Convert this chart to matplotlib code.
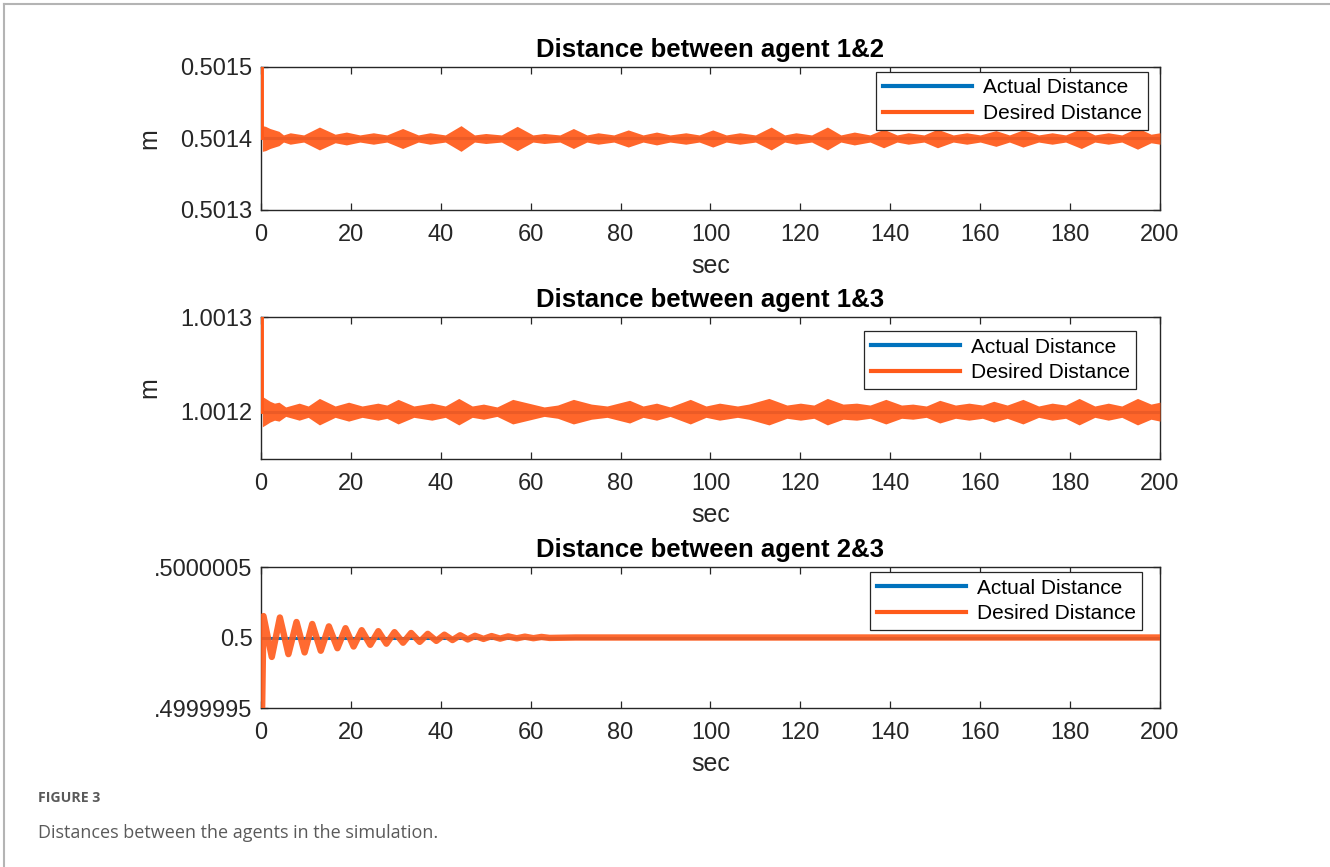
import numpy as np
import matplotlib.pyplot as plt

plt.rcParams['font.family'] = ['Liberation Sans', 'DejaVu Sans']

BLUE = '#0072BD'
ORANGE = '#FF5A1A'
INK = '#262626'

# values
# panel 1 / 2: band half-width of the desired distance, in 1e-6 m
base12 = 0.5014
spike12_t = [0.3, 0.3]
spike12_y = [0.50140, 0.50152]
env12_t = [0.3, 1, 2, 3, 4, 5, 6.5, 9.5, 13, 16.5, 19, 22, 25, 28, 31.5, 35, 37.6, 41,
           44.5, 47.5, 50, 53.5, 57, 60.5, 63, 66.5, 69.5, 72.5, 75, 78.5, 81.7, 85, 88,
           91, 94.5, 97.5, 100.5, 103.5, 106.5, 110, 113.5, 116.5, 119, 122.5, 126, 129,
           132, 135.5, 138.5, 141.5, 144, 147.5, 150.5, 154, 157, 160, 163.5, 166.5,
           169.5, 173, 176, 179, 182.5, 185.5, 188.5, 191.5, 195, 198, 200]
env12_amp = [18, 17, 14, 12, 10, 5, 8, 5, 16, 6, 9, 5, 8, 5, 14, 5, 8, 5,
             18, 5, 7, 5, 17, 5, 7, 5, 14, 5, 8, 5, 12, 5, 9,
             5, 8, 5, 12, 5, 8, 5, 16, 5, 8, 5, 16, 5,
             9, 5, 13, 5, 8, 5, 13, 5, 8, 5, 11, 5,
             12, 5, 8, 5, 14, 5, 8, 5, 15, 6, 8]

base13 = 1.0012
spike13_t = [0.3, 0.3]
spike13_y = [1.00120, 1.00132]
env13_t = [0.3, 1, 2, 3, 4, 5.5, 8.5, 10.5, 13, 16.5, 19.5, 22.5, 26, 28, 30.5, 34, 38,
           41, 44, 47, 49.5, 52.5, 56, 59.5, 63, 66, 69.5, 73.5, 77, 82, 85, 88, 91,
           95.5, 99, 102, 106, 108.5, 113, 117, 120, 123, 126, 129.5, 132.5, 135.5, 139,
           142.5, 145, 148, 151, 154.5, 157.5, 160.5, 163, 166, 169.5, 173, 176, 179,
           182, 185.5, 188.5, 191.5, 195, 198, 200]
env13_amp = [16, 14, 11, 9, 10, 5, 9, 6, 14, 6, 10, 6, 9, 7, 13, 6, 9,
             6, 14, 6, 8, 5, 13, 9, 5, 7, 13, 8, 6, 12, 6, 9, 5,
             13, 6, 9, 6, 8, 14, 7, 9, 7, 14, 8, 9, 7, 13,
             7, 8, 6, 12, 7, 9, 7, 11, 7, 13, 6, 9, 7,
             14, 6, 9, 6, 14, 8, 10]

# panel 3: peaks and troughs of the desired distance, in 1e-9 m
base23 = 0.5
osc23_t = [0.15, 0.55, 2.4, 4.2, 6.1, 7.9, 9.7, 11.4, 13.3, 15.1, 17.0, 18.8, 20.6,
           22.4, 24.3, 26.1, 27.9, 29.7, 31.6, 33.4, 35.3, 37.1, 39.0, 40.8, 42.6,
           44.3, 46.0, 47.6, 49.5, 51.3, 53.2, 55.0, 56.9, 58.7, 60.6, 62.4, 64.2,
           70, 200]
osc23_y = [-720, 152, -138, 142, -118, 110, -106, 96, -94, 79, -76, 66, -64,
           52, -52, 45, -44, 38, -37, 32, -31, 26, -24, 20, -18,
           16, -14, 12, -10, 10, -8, 8, -6, 6, -5, 4, -3,
           0, 0]

x_ticks = [0, 20, 40, 60, 80, 100, 120, 140, 160, 180, 200]
titles = ['Distance between agent 1&2', 'Distance between agent 1&3',
          'Distance between agent 2&3']


def style(ax, title, yticks, ylabels, ylim, ylabel=None):
    ax.set_xlim(0, 200)
    ax.set_ylim(*ylim)
    ax.set_xticks(x_ticks)
    ax.set_yticks(yticks)
    ax.set_yticklabels(ylabels)
    ax.tick_params(direction='in', length=5, width=0.9, colors=INK, labelsize=17,
                   top=True, right=True)
    ax.tick_params(axis='x', pad=10)
    ax.tick_params(axis='y', pad=6)
    for s in ax.spines.values():
        s.set_color(INK)
        s.set_linewidth(1.0)
    ax.set_title(title, fontsize=18.5, fontweight='bold', pad=7)
    ax.set_xlabel('sec', fontsize=18, color=INK, labelpad=6)
    if ylabel:
        ax.set_ylabel(ylabel, fontsize=18, color=INK, labelpad=14)


def add_legend(ax, anchor):
    leg = ax.legend(loc='upper right', bbox_to_anchor=anchor, fontsize=15,
                    handlelength=4.3, handletextpad=0.5, labelspacing=0.33,
                    borderaxespad=0, borderpad=0.31, fancybox=False, framealpha=1)
    leg.get_frame().set_edgecolor(INK)
    leg.get_frame().set_linewidth(0.9)
    for ln in leg.get_lines():
        ln.set_linewidth(3.0)
        ln.set_alpha(1)


fig = plt.figure(figsize=(13.3, 8.67), dpi=100)
axes = [fig.add_axes([0.19624, 0.75779, 0.67594, 0.16494]),
        fig.add_axes([0.19624, 0.47059, 0.67594, 0.16378]),
        fig.add_axes([0.19624, 0.18339, 0.67594, 0.16263])]

# panels 1 and 2
for ax, base, st, sy, et, ea in [(axes[0], base12, spike12_t, spike12_y, env12_t, env12_amp),
                                 (axes[1], base13, spike13_t, spike13_y, env13_t, env13_amp)]:
    ax.plot([0, 200], [base, base], color=BLUE, lw=2.2, label='Actual Distance', zorder=2)
    amp = np.array(ea) * 1e-6
    ax.fill_between(et, base - amp, base + amp, color=ORANGE, lw=0, alpha=0.93, zorder=3)
    ax.plot(st, sy, color=ORANGE, lw=2.8, zorder=3, label='Desired Distance')

ax = axes[2]
ax.plot([0, 200], [base23, base23], color=BLUE, lw=2.2, label='Actual Distance', zorder=2)
ax.plot(osc23_t, base23 + np.array(osc23_y) * 1e-9, color=ORANGE, lw=4.6, alpha=0.9,
        label='Desired Distance', zorder=3)

style(axes[0], titles[0], [0.5013, 0.5014, 0.5015], ['0.5013', '0.5014', '0.5015'],
      (0.5013, 0.5015), 'm')
style(axes[1], titles[1], [1.0012, 1.0013], ['1.0012', '1.0013'],
      (1.00115, 1.0013), 'm')
style(axes[2], titles[2], [0.4999995, 0.5, 0.5000005], ['.4999995', '0.5', '.5000005'],
      (0.4999995, 0.5000005))

add_legend(axes[0], (0.9867, 0.965))
add_legend(axes[1], (0.9733, 0.901))
add_legend(axes[2], (0.98, 0.964))

# article frame and caption
fig.add_artist(plt.Line2D([4 / 1330, 4 / 1330], [0, 1 - 4 / 867], color='#b4b4b4', lw=1.5))
fig.add_artist(plt.Line2D([4 / 1330, 1], [1 - 4 / 867, 1 - 4 / 867], color='#b4b4b4', lw=1.5))
fig.text(38 / 1330, 1 - 798 / 867, 'FIGURE 3', fontsize=10.2, fontweight='bold',
         color='#5a5a5a', family=['Open Sans', 'DejaVu Sans'], va='center')
fig.text(38 / 1330, 1 - 833 / 867, 'Distances between the agents in the simulation.',
         fontsize=13, color='#5a5a5a', family=['Open Sans', 'DejaVu Sans'], va='center')

fig.savefig('out.png', dpi=100)
